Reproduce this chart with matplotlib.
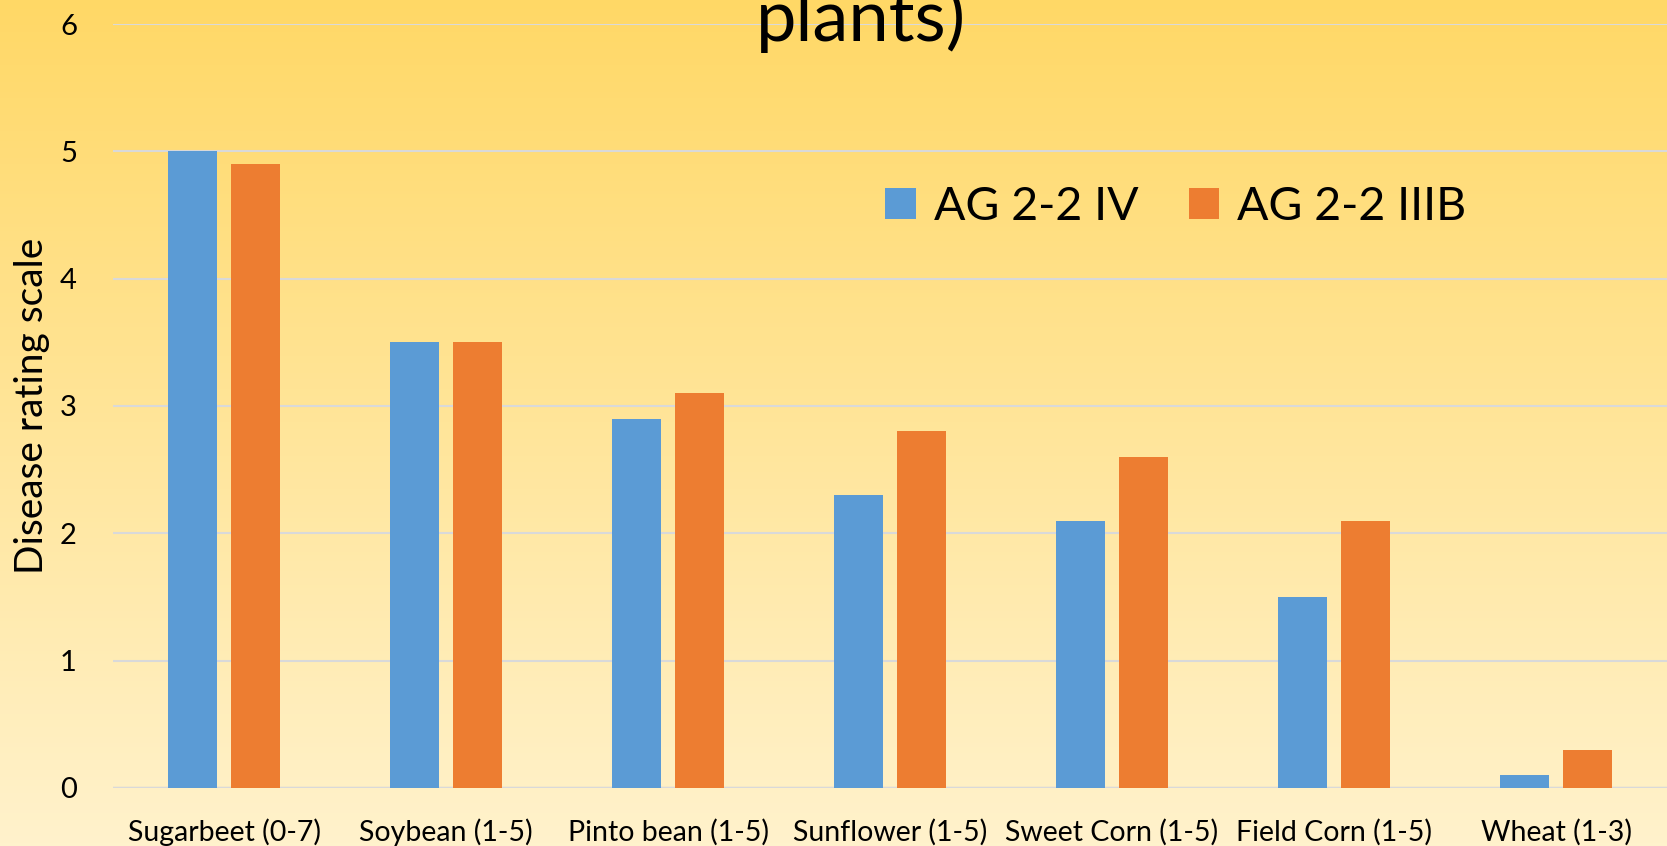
import numpy as np
import matplotlib
matplotlib.use("Agg")
import matplotlib.pyplot as plt
from matplotlib.colors import LinearSegmentedColormap

plt.rcParams['font.family'] = ['Lato', 'DejaVu Sans']

# disease ratings by host crop
crops = ['Sugarbeet (0-7)', 'Soybean (1-5)', 'Pinto bean (1-5)', 'Sunflower (1-5)',
         'Sweet Corn (1-5)', 'Field Corn (1-5)', 'Wheat (1-3)']
ag_iv = [5.0, 3.5, 2.9, 2.3, 2.1, 1.5, 0.1]
ag_iiib = [4.9, 3.5, 3.1, 2.8, 2.6, 2.1, 0.3]
series_names = ['AG 2-2 IV', 'AG 2-2 IIIB']

blue = '#5B9BD5'
orange = '#ED7D31'

fig = plt.figure(figsize=(16.67, 8.46), dpi=100)

# yellow gradient background, darker at the top
bg = fig.add_axes([0, 0, 1, 1], zorder=-10)
grad = np.linspace(0, 1, 256).reshape(-1, 1)
cmap = LinearSegmentedColormap.from_list('bg', ['#FFD866', '#FFF2CC'])
bg.imshow(grad, aspect='auto', cmap=cmap, extent=[0, 1, 0, 1], origin='upper')
bg.axis('off')

ax = fig.add_axes([0.0678, 0.0686, 0.9322, 0.903])
ax.patch.set_alpha(0)

x = np.arange(len(crops))
w = 0.22
off = 0.141
ax.bar(x - off, ag_iv, w, color=blue, label=series_names[0], zorder=3)
ax.bar(x + off, ag_iiib, w, color=orange, label=series_names[1], zorder=3)

ax.set_xlim(-0.5, len(crops) - 0.5)
ax.set_ylim(0, 6)
ax.set_yticks(range(7))
ax.grid(axis='y', color='#D9D9D9', linewidth=1.5, zorder=0)
ax.axhline(0, color='#D9D9D9', linewidth=2.5, zorder=2)
for s in ax.spines.values():
    s.set_visible(False)

ax.set_xticks(x)
ax.set_xticklabels(crops, fontsize=20.5)
ax.tick_params(axis='x', length=0, pad=22)
ax.tick_params(axis='y', length=0, pad=26, labelsize=21)
ax.set_ylabel('Disease rating scale', fontsize=28)
ax.yaxis.set_label_coords(-0.0405, 0.5)

ax.legend(loc='upper left', bbox_to_anchor=(0.47, 0.8425), ncol=2, frameon=False,
          fontsize=33.5, handlelength=0.65, handleheight=0.65, handletextpad=0.4,
          columnspacing=1.07)

# last line of the slide title, partly above the top edge
fig.text(0.5165, 0.9515, 'plants)', fontsize=52, ha='center', va='baseline')

fig.savefig('out.png', dpi=100)
